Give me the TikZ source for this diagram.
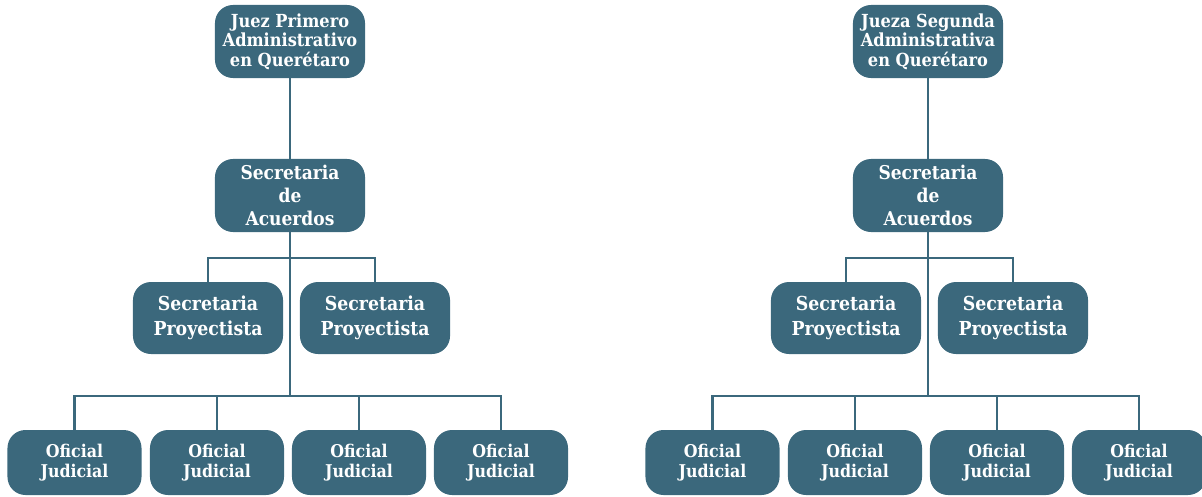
\documentclass[tikz,border=0pt]{standalone}
\usepackage{fontspec}
\setmainfont{DejaVu Serif Condensed}
\definecolor{juzgado}{RGB}{59,104,124}
\tikzset{
  cargo/.style={fill=juzgado, rounded corners=0.45cm, text=white, align=center, inner sep=0pt},
  juez/.style={cargo, minimum width=3.75cm, minimum height=1.825cm, font=\bfseries\fontsize{12.8}{13.8}\selectfont},
  acuerdos/.style={cargo, minimum width=3.75cm, minimum height=1.825cm, font=\bfseries\fontsize{13.5}{16.3}\selectfont},
  proyectista/.style={cargo, minimum width=3.75cm, minimum height=1.8cm, font=\bfseries\fontsize{13.7}{17.5}\selectfont},
  oficial/.style={cargo, minimum width=3.35cm, minimum height=1.625cm, font=\bfseries\fontsize{12.5}{14.2}\selectfont},
  linea/.style={draw=juzgado, line width=1.6pt}
}
\begin{document}
\begin{tikzpicture}[x=0.025cm,y=-0.025cm]
\useasboundingbox (0,0) rectangle (1202,496);

% one tree per court
\foreach \t/\dx/\titulo in {L/0/{Juez Primero\\Administrativo\\en Querétaro}, R/638/{Jueza Segunda\\Administrativa\\en Querétaro}}{
  \node[juez] (top\t) at (\dx+290,41.5) {\titulo};
  \node[acuerdos] (acu\t) at (\dx+290,195.5) {Secretaria\\de\\Acuerdos};
  \node[proyectista] (spA\t) at (\dx+208,318) {Secretaria\\Proyectista};
  \node[proyectista] (spB\t) at (\dx+375,318) {Secretaria\\Proyectista};
  \node[oficial] (ojA\t) at (\dx+74.5,462.5) {Oficial\\Judicial};
  \node[oficial] (ojB\t) at (\dx+217,462.5) {Oficial\\Judicial};
  \node[oficial] (ojC\t) at (\dx+359,462.5) {Oficial\\Judicial};
  \node[oficial] (ojD\t) at (\dx+501,462.5) {Oficial\\Judicial};

  %branch points
  \coordinate (barA\t) at (\dx+290,258);
  \coordinate (barB\t) at (\dx+290,396);

  \draw[linea] (top\t) -- (acu\t);
  \draw[linea] (acu\t) -- (barB\t);
  \draw[linea] (spA\t.north) |- (barA\t) -| (spB\t.north);
  \draw[linea] (ojA\t.north) |- (barB\t) -| (ojD\t.north);
  \draw[linea] (ojB\t.north) -- (ojB\t.north |- barB\t);
  \draw[linea] (ojC\t.north) -- (ojC\t.north |- barB\t);
}

\end{tikzpicture}
\end{document}
